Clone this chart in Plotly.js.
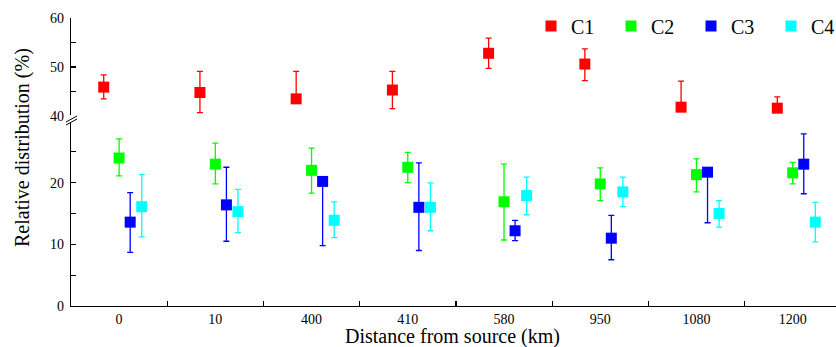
<!DOCTYPE html>
<html>
<head>
<meta charset="utf-8">
<script src="https://cdn.plot.ly/plotly-3.0.1.min.js"></script>
<style>html,body{margin:0;padding:0;background:#fff;}</style>
</head>
<body>
<div id="chart" style="width:836px;height:347px;"></div>
<script>
// Categories (distance from source, km)
const categories = ['0', '10', '400', '410', '580', '950', '1080', '1200'];

// C1 (upper panel)
const c1Values = [45.9, 44.8, 43.5, 45.3, 52.8, 50.6, 41.8, 41.6];
const c1Plus   = [2.5, 4.3, 5.6, 3.8, 3.1, 3.1, 5.3, 2.3];
const c1Minus  = [2.4, 4.1, 0, 3.8, 3.1, 3.4, 0, 0];

// C2
const c2Values = [24.0, 23.0, 22.0, 22.5, 16.9, 19.8, 21.3, 21.6];
const c2Plus   = [3.1, 3.4, 3.6, 2.4, 6.1, 2.6, 2.55, 1.7];
const c2Minus  = [2.9, 3.2, 3.7, 2.5, 6.2, 2.7, 2.8, 1.8];

// C3
const c3Values = [13.6, 16.4, 20.2, 16.0, 12.2, 11.0, 21.7, 23.0];
const c3Plus   = [4.8, 6.1, 0, 7.2, 1.7, 3.7, 0, 4.9];
const c3Minus  = [4.9, 5.9, 10.4, 7.0, 1.6, 3.5, 8.2, 4.8];

// C4
const c4Values = [16.1, 15.3, 13.9, 16.0, 17.9, 18.5, 15.0, 13.6];
const c4Plus   = [5.2, 3.6, 3.0, 3.95, 3.0, 2.4, 2.1, 3.2];
const c4Minus  = [4.9, 3.4, 2.8, 3.8, 3.1, 2.4, 2.2, 3.2];

const seriesNames = ['C1', 'C2', 'C3', 'C4'];
const colors = ['#ff0000', '#00ff00', '#0000ff', '#00ffff'];
const offsets = [-0.16, 0, 0.115, 0.235];

const seriesData = [
  [c1Values, c1Plus, c1Minus, 'y2'],
  [c2Values, c2Plus, c2Minus, 'y'],
  [c3Values, c3Plus, c3Minus, 'y'],
  [c4Values, c4Plus, c4Minus, 'y']
];

const traces = seriesData.map((s, i) => ({
  type: 'scatter',
  mode: 'markers',
  name: seriesNames[i],
  x: categories.map((c, k) => k + offsets[i]),
  y: s[0],
  yaxis: s[3],
  marker: {symbol: 'square', size: 11, color: colors[i], line: {width: 0}},
  error_y: {
    type: 'data', symmetric: false,
    array: s[1], arrayminus: s[2],
    color: colors[i], thickness: 1.3, width: 3
  },
  hoverinfo: 'x+y'
}));

const FAM = 'Liberation Serif';
const W = 836 - 71, H = 306 - 18;
const px = (x) => (x - 71) / W;
const py = (y) => (306 - y) / H;

const layout = {
  width: 836, height: 347,
  margin: {l: 71, r: 0, t: 18, b: 41, autoexpand: false},
  paper_bgcolor: '#fff', plot_bgcolor: '#fff',
  font: {family: FAM, size: 14, color: '#000'},
  showlegend: true,
  legend: {
    orientation: 'h', x: px(531), xanchor: 'left', y: py(26), yanchor: 'middle',
    font: {family: FAM, size: 20, color: '#000'},
    entrywidth: 35, entrywidthmode: 'pixels',
    bgcolor: 'rgba(0,0,0,0)', itemclick: false
  },
  xaxis: {
    type: 'linear', range: [-0.5, 7.45], automargin: false,
    tickvals: categories.map((c, k) => k), ticktext: categories,
    ticks: '', showgrid: false, zeroline: false,
    showline: true, linecolor: '#000', linewidth: 1.3,
    tickfont: {family: FAM, size: 14, color: '#000'},
    ticklabelstandoff: 0,
    minor: {tickvals: [0.5, 1.5, 2.5, 3.5, 4.5, 5.5, 6.5], ticks: 'inside', ticklen: 5, tickcolor: '#000', tickwidth: 1.2, showgrid: false}
  },
  yaxis: {
    domain: [0, py(121)], range: [0, 30], automargin: false,
    tickvals: [0, 10, 20], ticks: 'inside', ticklen: 5, tickcolor: '#000', tickwidth: 1.2,
    showgrid: false, zeroline: false,
    showline: true, linecolor: '#000', linewidth: 1.3,
    tickfont: {family: FAM, size: 14, color: '#000'},
    ticklabelstandoff: 3,
    minor: {tickvals: [5, 15, 25], ticks: 'inside', ticklen: 5, tickcolor: '#000', tickwidth: 1.2, showgrid: false}
  },
  yaxis2: {
    domain: [py(116), 1], range: [40, 60], anchor: 'x', automargin: false,
    tickvals: [40, 50, 60], ticks: 'inside', ticklen: 5, tickcolor: '#000', tickwidth: 1.2,
    showgrid: false, zeroline: false,
    showline: true, linecolor: '#000', linewidth: 1.3,
    tickfont: {family: FAM, size: 14, color: '#000'},
    ticklabelstandoff: 3,
    minor: {tickvals: [45, 55], ticks: 'inside', ticklen: 5, tickcolor: '#000', tickwidth: 1.2, showgrid: false}
  },
  shapes: [
    {type: 'rect', xref: 'paper', yref: 'paper', x0: px(68), x1: px(74), y0: py(122), y1: py(115), fillcolor: '#fff', line: {width: 0}},
    {type: 'line', xref: 'paper', yref: 'paper', x0: px(66), y0: py(122), x1: px(77), y1: py(116), line: {color: '#000', width: 1}},
    {type: 'line', xref: 'paper', yref: 'paper', x0: px(66), y0: py(125), x1: px(77), y1: py(119), line: {color: '#000', width: 1}}
  ],
  annotations: [
    {text: 'Relative distribution (%)', xref: 'paper', yref: 'paper', x: px(22), y: py(148),
     xanchor: 'center', yanchor: 'middle', textangle: -90, showarrow: false,
     font: {family: FAM, size: 20, color: '#000'}},
    {text: 'Distance from source (km)', xref: 'paper', yref: 'paper', x: px(452), y: py(336),
     xanchor: 'center', yanchor: 'middle', showarrow: false, borderpad: 0,
     font: {family: FAM, size: 20, color: '#000'}}
  ]
};

Plotly.newPlot('chart', traces, layout, {displayModeBar: false, staticPlot: true});
</script>
</body>
</html>
